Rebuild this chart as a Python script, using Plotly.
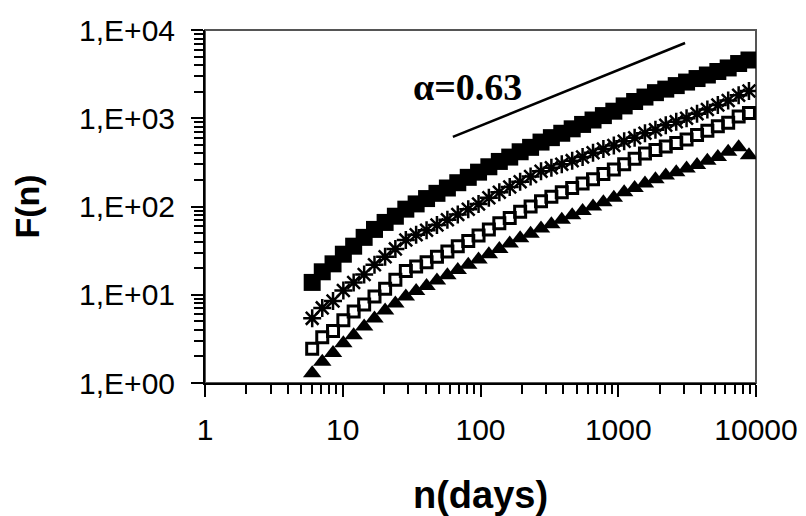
import plotly.graph_objects as go

# window sizes n (days)
n_days = [6, 7.1, 8.5, 10.1, 12, 14.3, 17, 20.3, 24.1, 28.7, 34.1, 40.6, 48.3, 57.5,
          68.4, 81.5, 96.8, 115, 137, 163, 194, 231, 275, 327, 389, 463, 551, 656,
          780, 929, 1104, 1315, 1563, 1862, 2213, 2636, 3133, 3733, 4436, 5284,
          6281, 7482, 8892]

F_filled_sq = [13.8, 18.2, 22.4, 28.8, 35.5, 44.7, 55, 66, 77.6, 93.3, 107, 123, 141, 162,
               186, 214, 245, 282, 324, 363, 417, 468, 537, 603, 676, 759, 851, 955,
               1072, 1202, 1380, 1549, 1738, 1950, 2138, 2344, 2570, 2818, 3090, 3388,
               3715, 4169, 4571]

F_asterisk = [5.4, 7.1, 8.5, 11.2, 13.8, 17.0, 21.9, 26.9, 33.1, 41.7, 47.9, 53.7, 61.7, 70.8,
              81.3, 93.3, 107, 126, 145, 166, 191, 219, 251, 275, 302, 331, 363, 407,
              447, 490, 550, 603, 676, 741, 832, 912, 1000, 1122, 1259, 1413,
              1585, 1820, 2042]

F_open_sq = [2.45, 3.31, 3.89, 5.13, 6.46, 7.76, 9.55, 11.7, 14.8, 18.6, 20.9, 23.4, 26.9, 30.9,
             35.5, 40.7, 46.8, 55.0, 64.6, 74.1, 87.1, 100, 115, 129, 145, 162, 182, 204,
             234, 263, 302, 347, 398, 437, 479, 525, 575, 646, 724, 813,
             891, 1047, 1148]

F_triangle = [1.29, 1.74, 2.19, 2.82, 3.47, 4.37, 5.37, 6.61, 7.94, 9.55, 11.0, 12.6, 14.5, 16.6,
              19.1, 21.9, 25.1, 28.8, 33.1, 38.0, 43.7, 49.0, 56.2, 63.1, 70.8, 79.4, 89.1, 100,
              112, 126, 145, 162, 182, 204, 224, 245, 269, 295, 331, 363,
              417, 468, 380]

# reference slope line (alpha = 0.63)
alpha_line_n = [63, 3055]
alpha_line_F = [614, 7120]
alpha_label = "α=0.63"

x_tickvals = [1, 10, 100, 1000, 10000]
x_ticktext = ["1", "10", "100", "1000", "10000"]
y_tickvals = [1, 10, 100, 1000, 10000]
y_ticktext = ["1,E+00", "1,E+01", "1,E+02", "1,E+03", "1,E+04"]

minor_vals = [m * 10 ** e for e in range(4) for m in range(2, 10)]

fig = go.Figure()

fig.add_trace(go.Scatter(x=alpha_line_n, y=alpha_line_F, mode="lines",
                         line=dict(color="black", width=2.5), hoverinfo="skip"))
fig.add_trace(go.Scatter(x=n_days, y=F_triangle, mode="markers",
                         marker=dict(symbol="triangle-up", size=16, color="black")))
fig.add_trace(go.Scatter(x=n_days, y=F_open_sq, mode="markers",
                         marker=dict(symbol="square-open", size=11, color="black",
                                     line=dict(color="black", width=3))))
fig.add_trace(go.Scatter(x=n_days, y=F_asterisk, mode="markers",
                         marker=dict(symbol="asterisk-open", size=15, color="black",
                                     line=dict(color="black", width=2.5))))
fig.add_trace(go.Scatter(x=n_days, y=F_filled_sq, mode="markers",
                         marker=dict(symbol="square", size=17, color="black")))

axis_common = dict(
    type="log", range=[0, 4], showgrid=False, zeroline=False, automargin=False,
    showline=True, linecolor="black", linewidth=2,
    ticks="outside", ticklen=12, tickwidth=2, tickcolor="black",
    tickfont=dict(family="Liberation Sans, Arial, sans-serif", size=30, color="black"),
    tickmode="array",
    minor=dict(tickmode="array", tickvals=minor_vals, ticks="outside", ticklen=9,
               tickwidth=2, tickcolor="black", showgrid=False),
)

fig.update_xaxes(**axis_common, tickvals=x_tickvals, ticktext=x_ticktext,
                 ticklabelstandoff=7,
                 title=dict(text="<b>n(days)</b>", standoff=42,
                            font=dict(family="Liberation Sans, Arial, sans-serif", size=38, color="black")))
fig.update_yaxes(**axis_common, tickvals=y_tickvals, ticktext=y_ticktext,
                 ticklabelstandoff=10,
                 title=dict(text="<b>F(n)</b>", standoff=30,
                            font=dict(family="Liberation Sans, Arial, sans-serif", size=34, color="black")))

fig.add_shape(type="rect", xref="paper", yref="paper", x0=0, x1=1, y0=0, y1=1,
              line=dict(color="#555555", width=2), layer="below")

fig.add_annotation(text="<b>" + alpha_label + "</b>", xref="paper", yref="paper",
                   x=0.477, y=0.839, xanchor="center", yanchor="middle", showarrow=False,
                   font=dict(family="Liberation Serif, Times New Roman, serif", size=38, color="black"))

# the page body has an 8px margin, so the figure is sized to fit the 806x516 window
fig.update_layout(
    width=798, height=508,
    margin=dict(l=197, r=50, t=22, b=133, autoexpand=False),
    paper_bgcolor="white", plot_bgcolor="white",
    showlegend=False,
)

fig.write_html("out.html")
